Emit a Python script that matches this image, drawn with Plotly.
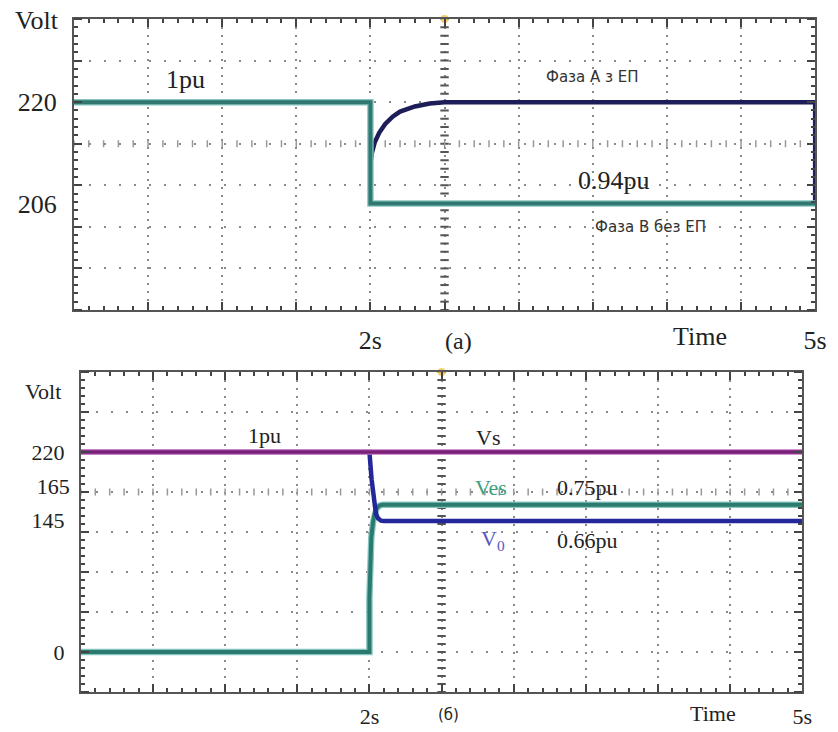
import numpy as np
import plotly.graph_objects as go

# ---------------- data ----------------
# panel (a)
t_phase_a = [0, 2.0, 2.0, 2.01, 2.03, 2.06, 2.1, 2.15, 2.2, 2.3, 2.4, 2.5, 5.0, 5.0]
v_phase_a = [220, 220, 211.5, 213.0, 214.5, 215.8, 217.0, 218.0, 218.7, 219.4, 219.8, 220, 220, 206]
t_phase_b = [0, 2.0, 2.0, 5.0]
v_phase_b = [220, 220, 206, 206]

# panel (б)
t_vs = [0, 5.0]
v_vs = [220, 220]
t_v0 = [0, 2.0, 2.015, 2.03, 2.045, 2.06, 2.08, 2.1, 5.0]
v_v0 = [220, 220, 190, 165, 152, 147, 144.5, 144, 144]
t_ves = [0, 2.0, 2.0, 2.005, 2.013, 2.025, 2.035, 2.05, 2.07, 2.09, 5.0]
v_ves = [0, 0, 60, 100, 126, 143, 152, 158, 161, 162, 162]

# tick labels
x_tick_labels = {2.0: "2s", 5.0: "5s"}
top_y_ticks = [220, 206]
bottom_y_ticks = [220, 145, 0]
bottom_y_ticks_upper = [165]   # drawn just above its tick, as in the picture

# ---------------- scope-like grid settings ----------------
W, H = 838, 732
D_TOP = 5.74      # volts per vertical division, panel (a)
D_BOT = 44.0      # volts per vertical division, panel (б)
top_range = [220 - 5 * D_TOP, 220 + 2 * D_TOP]
bot_range = [220 - 6 * D_BOT, 220 + 2 * D_BOT]

SERIF = "Liberation Serif"
SANS = "DejaVu Sans"
FRAME = "#555555"
GRIDC = "#8a8a8a"
FT = 26   # top panel serif size
FB = 22   # bottom panel serif size

x_major = [round(0.5 * i, 2) for i in range(11)]
x_text = [x_tick_labels.get(v, "") for v in x_major]


def xaxis_cfg(domain, anchor, fsize, standoff):
    return dict(
        domain=domain, anchor=anchor, range=[0, 5],
        tickmode="array", tickvals=x_major, ticktext=x_text,
        ticks="inside", ticklen=8, tickwidth=1.5, tickcolor="#444",
        showgrid=True, griddash="2px,6px", gridcolor=GRIDC, gridwidth=1.5,
        minor=dict(tickmode="linear", tick0=0, dtick=0.1, ticks="inside",
                   ticklen=4, tickwidth=1.5, tickcolor="#444", showgrid=False),
        showline=True, linecolor=FRAME, linewidth=2, mirror="ticks",
        zeroline=False, tickfont=dict(family=SERIF, size=fsize, color="#222"),
        ticklabelstandoff=standoff, fixedrange=True,
    )


def yaxis_main_cfg(domain, anchor, rng, D, tickvals, fsize):
    return dict(
        domain=domain, anchor=anchor, range=rng,
        tickmode="array", tickvals=tickvals, ticktext=[str(v) for v in tickvals],
        ticks="", showgrid=False,
        minor=dict(tickmode="linear", tick0=220, dtick=D, ticks="inside",
                   ticklen=8, tickwidth=1.5, tickcolor="#444",
                   showgrid=True, griddash="2px,13px", gridcolor=GRIDC, gridwidth=2),
        showline=True, linecolor=FRAME, linewidth=2, mirror="ticks",
        zeroline=False, tickfont=dict(family=SERIF, size=fsize, color="#222"),
        ticklabelstandoff=10, fixedrange=True,
    )


def yaxis_fine_cfg(over, anchor, rng, D):
    return dict(
        overlaying=over, anchor=anchor, side="left", range=rng,
        tickmode="linear", tick0=220, dtick=D / 5, ticks="inside", ticklen=4,
        tickwidth=1.5, tickcolor="#444", showticklabels=False, showgrid=False,
        showline=False, mirror="ticks", zeroline=False, fixedrange=True,
    )


fig = go.Figure()

top_dom_x = [75 / W, 827 / W]
top_dom_y = [1 - 310 / H, 1 - 19 / H]
bot_dom_x = [82 / W, 814 / W]
bot_dom_y = [1 - 692 / H, 1 - 372 / H]


def center_marks(xa, ya, rng, D):
    yv = np.arange(rng[0], rng[1] + 1e-9, D / 5)
    fig.add_trace(go.Scatter(x=[2.5] * len(yv), y=yv, mode="markers", xaxis=xa, yaxis=ya,
                             marker=dict(symbol="line-ew", size=6, line=dict(width=2, color="#555")),
                             hoverinfo="skip", showlegend=False))
    xv = np.arange(0, 5.0001, 0.1)
    fig.add_trace(go.Scatter(x=xv, y=[220 - D] * len(xv), mode="markers", xaxis=xa, yaxis=ya,
                             marker=dict(symbol="line-ns", size=5, line=dict(width=1.5, color="#999")),
                             hoverinfo="skip", showlegend=False))
    fig.add_trace(go.Scatter(x=[2.5], y=[rng[1]], mode="markers", xaxis=xa, yaxis=ya,
                             marker=dict(symbol="circle", size=8, color="#f2c55a", opacity=0.85),
                             cliponaxis=False, hoverinfo="skip", showlegend=False))


# ---- panel (a)
center_marks("x", "y", top_range, D_TOP)
fig.add_trace(go.Scatter(x=t_phase_a, y=v_phase_a, mode="lines", xaxis="x", yaxis="y",
                         line=dict(color="#1d1d58", width=4.5), name="Фаза А з ЕП",
                         showlegend=False))
fig.add_trace(go.Scatter(x=t_phase_b, y=v_phase_b, mode="lines", xaxis="x", yaxis="y3",
                         line=dict(color="#86c6bf", width=6.5), hoverinfo="skip", showlegend=False))
fig.add_trace(go.Scatter(x=t_phase_b, y=v_phase_b, mode="lines", xaxis="x", yaxis="y3",
                         line=dict(color="#2f7770", width=4), name="Фаза В без ЕП",
                         showlegend=False))

# ---- panel (б)
center_marks("x2", "y2", bot_range, D_BOT)
fig.add_trace(go.Scatter(x=t_ves, y=v_ves, mode="lines", xaxis="x2", yaxis="y2",
                         line=dict(color="#86c6bf", width=6.5), hoverinfo="skip", showlegend=False))
fig.add_trace(go.Scatter(x=t_ves, y=v_ves, mode="lines", xaxis="x2", yaxis="y2",
                         line=dict(color="#2a7a70", width=4), name="Ves", showlegend=False))
fig.add_trace(go.Scatter(x=t_v0, y=v_v0, mode="lines", xaxis="x2", yaxis="y4",
                         line=dict(color="#23279a", width=4.5), name="V0", showlegend=False))
fig.add_trace(go.Scatter(x=t_vs, y=v_vs, mode="lines", xaxis="x2", yaxis="y5",
                         line=dict(color="#c070c0", width=5.5), hoverinfo="skip", showlegend=False))
fig.add_trace(go.Scatter(x=t_vs, y=v_vs, mode="lines", xaxis="x2", yaxis="y5",
                         line=dict(color="#7a2078", width=3.5), name="Vs", showlegend=False))

annotations = []


def ann(text, x, y, xref, yref, size, family=SERIF, color="#222"):
    annotations.append(dict(text=text, x=x, y=y, xref=xref, yref=yref, showarrow=False,
                            xanchor="center", yanchor="middle",
                            font=dict(family=family, size=size, color=color)))


def bx(px):
    return (px - 82) / 732 * 5


def by(py):
    return 220 - (py - 451.7) / 0.909


# panel (a) labels
ann("1pu", 0.751, 223.1, "x", "y", FT)
ann("Фаза А з ЕП", 3.497, 223.5, "x", "y", 15, SANS, "#333")
ann("0.94pu", 3.644, 209.2, "x", "y", FT)
ann("Фаза В без ЕП", 3.89, 202.8, "x", "y", 15, SANS, "#333")
ann("Volt", 38 / W, 1 - 20 / H, "paper", "paper", FT)
ann("(a)", 465 / W, 1 - 341 / H, "paper", "paper", 24)
ann("Time", 710 / W, 1 - 336 / H, "paper", "paper", FT)

# panel (б) labels
ann("1pu", bx(268), by(435), "x2", "y2", FB)
ann("Vs", bx(495), by(437), "x2", "y2", FB)
ann("Ves", bx(498), by(487), "x2", "y2", FB, SERIF, "#3aa27a")
ann("0.75pu", bx(596), by(487), "x2", "y2", FB)
ann("V<sub>0</sub>", bx(500), by(540), "x2", "y2", FB, SERIF, "#5858c0")
ann("0.66pu", bx(596), by(540), "x2", "y2", FB)
ann("Volt", 44 / W, 1 - 391 / H, "paper", "paper", FB)
ann("(б)", 455 / W, 1 - 715 / H, "paper", "paper", 15, SANS)
ann("Time", 723 / W, 1 - 713 / H, "paper", "paper", FB)

fig.update_layout(
    width=W, height=H, margin=dict(l=0, r=0, t=0, b=0),
    paper_bgcolor="white", plot_bgcolor="white", showlegend=False,
    xaxis=xaxis_cfg(top_dom_x, "y", FT, 6),
    yaxis=yaxis_main_cfg(top_dom_y, "x", top_range, D_TOP, top_y_ticks, FT),
    yaxis3=yaxis_fine_cfg("y", "x", top_range, D_TOP),
    xaxis2=xaxis_cfg(bot_dom_x, "y2", FB, 4),
    yaxis2=yaxis_main_cfg(bot_dom_y, "x2", bot_range, D_BOT, bottom_y_ticks, FB),
    yaxis4=yaxis_fine_cfg("y2", "x2", bot_range, D_BOT),
    yaxis5=dict(overlaying="y2", anchor="x2", side="left", range=bot_range,
                tickmode="array", tickvals=bottom_y_ticks_upper,
                ticktext=[str(v) for v in bottom_y_ticks_upper],
                ticks="", showgrid=False, showline=False, zeroline=False,
                ticklabelposition="outside top", ticklabelstandoff=10,
                tickfont=dict(family=SERIF, size=FB, color="#222"), fixedrange=True),
    annotations=annotations,
)

fig.write_html("out.html", config={"displayModeBar": False},
               post_script="document.body.style.margin='0';document.body.style.overflow='hidden';")
